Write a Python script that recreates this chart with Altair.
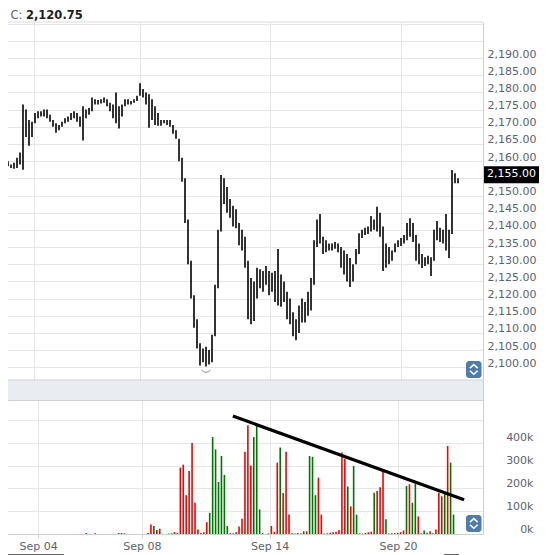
import altair as alt
import pandas as pd

# ---------------- data ----------------
bar_index = list(range(1, 153))

high = [
    2159.5, 2160, 2159, 2159.5, 2161, 2162.5, 2176.5, 2175, 2172, 2171.5,
    2174, 2174.5, 2174.5, 2175, 2175, 2173.5, 2172, 2171, 2170.5, 2171.5,
    2172.5, 2173, 2174, 2174.5, 2174, 2173, 2176, 2175, 2175.5, 2178.5,
    2178, 2177.8, 2178, 2178.5, 2178, 2177, 2176.5, 2180, 2176, 2176.5,
    2178, 2178, 2177.5, 2178, 2179, 2182.7, 2181, 2180, 2179.5, 2178,
    2176, 2174, 2172, 2172, 2172, 2172, 2170.5, 2169, 2166.5, 2161,
    2155, 2143, 2131, 2121, 2114, 2107, 2105.5, 2106, 2105, 2109.5,
    2124, 2140, 2156, 2155, 2152.5, 2149, 2147, 2146, 2142, 2140,
    2138, 2131, 2126, 2125, 2129, 2128.5, 2128, 2129.5, 2128, 2127.5,
    2128, 2134.4, 2127, 2125, 2122, 2120, 2116, 2114, 2118, 2120,
    2119, 2122, 2126, 2137, 2143, 2144.6, 2138, 2137, 2136, 2136,
    2136.5, 2136, 2135, 2134, 2133, 2131.8, 2130, 2134.4, 2139, 2140,
    2140.6, 2141, 2144, 2143, 2146.7, 2145, 2141, 2136, 2135, 2134,
    2136, 2137, 2137.6, 2138.5, 2142, 2143.4, 2142, 2138.5, 2136, 2133,
    2132, 2132.5, 2132, 2140, 2142.6, 2140.6, 2140, 2144.6, 2140, 2157.4,
    2156.5, 2155,
]

low = [
    2158, 2158.5, 2158, 2157.8, 2158, 2159, 2157.5, 2167, 2164.5, 2167,
    2171, 2172.5, 2173, 2173, 2172.5, 2171.5, 2170, 2168.3, 2169, 2170,
    2171, 2171.5, 2172, 2172.5, 2171.5, 2170, 2166, 2172.5, 2173.5, 2174.5,
    2176.5, 2176.5, 2176.8, 2177, 2176, 2174.5, 2172.5, 2171, 2169.5, 2173,
    2176, 2176.5, 2176.5, 2177, 2177.5, 2179, 2178.5, 2176.5, 2169.7, 2172,
    2170.5, 2170.3, 2170.3, 2171, 2170.5, 2170, 2168, 2166.5, 2160, 2154,
    2142, 2130, 2120, 2111.5, 2105.5, 2100.5, 2101.5, 2100.2, 2100.8, 2101.5,
    2109, 2123, 2139.5, 2147.5, 2145, 2143.5, 2141, 2140.5, 2135.5, 2134,
    2129, 2114, 2112.5, 2113.5, 2120, 2123, 2122, 2124, 2121, 2122,
    2119, 2118, 2117.6, 2119, 2114, 2112.5, 2109, 2107.9, 2110, 2113,
    2113, 2115, 2116.5, 2124, 2135, 2136, 2133, 2133.5, 2134, 2134,
    2134.5, 2133.5, 2129, 2127, 2125, 2123.4, 2125, 2130, 2133, 2137.6,
    2138.5, 2138.8, 2139.5, 2140, 2139.5, 2138, 2128, 2129, 2130, 2131,
    2133.5, 2135, 2135.3, 2136, 2137, 2138, 2136.5, 2131, 2130, 2128.9,
    2129.5, 2130, 2126.6, 2131, 2137, 2136.5, 2136, 2134, 2131.8, 2138.8,
    2153.6, 2153.6,
]

# volume in thousands of contracts
volume_k = [
    0, 0, 0, 0, 0, 0, 0, 0, 0, 0,
    0, 0, 0, 0, 0, 0, 0, 0, 0, 0,
    0, 0, 0, 0, 0, 0, 4, 0, 0, 3,
    0, 0, 0, 0, 0, 0, 0, 4, 4, 3,
    0, 0, 0, 0, 0, 0, 0, 4, 42, 35,
    18, 23, 0, 0, 2, 3, 8, 5, 291, 304,
    170, 276, 399, 137, 20, 4, 8, 52, 93, 425,
    371, 228, 342, 259, 35, 4, 3, 8, 33, 67,
    360, 477, 300, 425, 481, 108, 4, 0, 3, 35,
    10, 313, 379, 180, 360, 85, 3, 2, 4, 3,
    12, 12, 342, 338, 170, 247, 85, 2, 3, 5,
    8, 10, 17, 357, 330, 208, 121, 298, 85, 3,
    2, 5, 8, 10, 181, 188, 205, 276, 65, 2,
    3, 4, 5, 8, 15, 210, 218, 137, 220, 77,
    3, 15, 5, 12, 3, 20, 181, 165, 180, 386,
    313, 85,
]

# u = up bar (green), d = down bar (red), ten bars per string
direction = list(
    "uuuuuuuuuu" "uuuuuuuuuu" "uuuuuuduuu" "uuuuuuuddu" "uuuuuuuddu"
    "dduudddddd" "dddddudduu" "uuuuududdd" "ddduuuuuud" "ddudddduud"
    "uduuudduud" "ddddduduuu" "ddddudddud" "ududduduud" "duudddddu" "duu"
)

tick_pos = [10.57, 45.9, 89.43, 133.1]
tick_labels = ["Sep 04", "Sep 08", "Sep 14", "Sep 20"]

trend_index = [76.9, 155.6]
trend_volume_k = [517, 150]

header_label = "C:"
header_close = "2,120.75"
last_price = 2155.00

price_ticks = [2100 + 5 * k for k in range(21)]
vol_ticks = [0, 100000, 200000, 300000, 400000, 500000]

# ---------------- styling ----------------
FONT = "DejaVu Sans"
GRID = "#e6e6e6"
AXIS_LINE = "#cbd0d6"
LABEL = "#5b6470"
RED = "#f50000"
GREEN = "#007400"
BTN = "#4f7cab"
PLOT_W = 481
PRICE_H = 358
VOL_H = 154

price_df = pd.DataFrame({"i": bar_index, "high": high, "low": low})
vol_df = pd.DataFrame({"i": bar_index, "volume": [v * 1000 for v in volume_k],
                       "dir": direction[:len(bar_index)]})
trend_df = pd.DataFrame({"i": trend_index, "volume": [v * 1000 for v in trend_volume_k]})
one = pd.DataFrame({"k": [0]})
hdr = pd.DataFrame({"label": [header_label], "value": [header_close]})

x_scale = alt.Scale(domain=[0, 160.33], nice=False, zero=False)
price_scale = alt.Scale(domain=[2096.3, 2200.5], nice=False, zero=False)
vol_scale = alt.Scale(domain=[0, 675000], nice=False, zero=False)

x_label_expr = " : ".join(
    f"abs(datum.value - {p}) < 0.01 ? '{l}'" for p, l in zip(tick_pos, tick_labels)
) + " : ''"

price_x_axis = alt.Axis(values=tick_pos, grid=True, gridColor=GRID, labels=False,
                        ticks=False, domain=False, title=None)
price_y_axis = alt.Axis(
    orient="right", values=price_ticks, title=None, ticks=False,
    domain=True, domainColor=AXIS_LINE, grid=True, gridColor=GRID,
    labelExpr="datum.value > 2190 || datum.value == 2155 ? '' : format(datum.value, ',.2f')",
    labelAlign="left", labelBaseline="alphabetic", labelPadding=4,
    labelOffset=-1, labelFlush=False, labelOverlap=False)
vol_x_axis = alt.Axis(values=tick_pos, labelExpr=x_label_expr, title=None, grid=True,
                      gridColor=GRID, domainColor=AXIS_LINE, tickColor=AXIS_LINE,
                      tickSize=4, labelPadding=2, labelFlush=False, labelOverlap=False)
vol_y_axis = alt.Axis(
    orient="right", values=vol_ticks, title=None, ticks=False,
    domain=True, domainColor=AXIS_LINE, grid=True, gridColor=GRID,
    labelExpr="datum.value >= 500000 ? '' : format(datum.value / 1000, 'd') + 'k'",
    labelAlign="right", labelBaseline="alphabetic", labelPadding=50,
    labelOffset=-2, labelFlush=False, labelOverlap=False)


def button(top):
    rect = alt.Chart(one).mark_rect(color=BTN, cornerRadius=3).encode(
        x=alt.value(464), x2=alt.value(479.5), y=alt.value(top), y2=alt.value(top + 17))
    up = alt.Chart(one).mark_point(
        shape="M-1,0.45L0,-0.45L1,0.45", filled=False, color="white",
        size=60, strokeWidth=1.6, opacity=1).encode(
        x=alt.value(471.8), y=alt.value(top + 5.3))
    down = alt.Chart(one).mark_point(
        shape="M-1,-0.45L0,0.45L1,-0.45", filled=False, color="white",
        size=60, strokeWidth=1.6, opacity=1).encode(
        x=alt.value(471.8), y=alt.value(top + 11.5))
    return [rect, up, down]


# ---------------- price panel ----------------
price_bars = alt.Chart(price_df).mark_rule(color="#000000", strokeWidth=1.6).encode(
    x=alt.X("i:Q", scale=x_scale, axis=price_x_axis),
    y=alt.Y("low:Q", scale=price_scale, axis=price_y_axis),
    y2="high:Q",
)

top_line = alt.Chart(one).mark_rule(color="#dadada").encode(
    x=alt.value(0), x2=alt.value(PLOT_W), y=alt.value(0))
top_bound = alt.Chart(one).mark_rule(opacity=0).encode(
    x=alt.value(0), x2=alt.value(5), y=alt.value(-21))
hdr_label = alt.Chart(hdr).mark_text(align="left", baseline="middle", font=FONT,
                                     fontSize=11.5, color=LABEL).encode(
    x=alt.value(8.5), y=alt.value(-6.5), text="label:N")
hdr_value = alt.Chart(hdr).mark_text(align="left", baseline="middle", font=FONT,
                                     fontSize=11.5, fontWeight="bold", color="#1e1e1e").encode(
    x=alt.value(24), y=alt.value(-6.5), text="value:N")

last_box = alt.Chart(one).mark_rect(color="#000000", yOffset=-12, y2Offset=5).encode(
    x=alt.value(482), x2=alt.value(537),
    y=alt.datum(last_price, scale=price_scale, axis=price_y_axis),
    y2=alt.datum(last_price))
last_text = alt.Chart(one).mark_text(align="left", baseline="alphabetic", dy=-1,
                                     font=FONT, fontSize=11, color="white").encode(
    x=alt.value(485), y=alt.datum(last_price, scale=price_scale, axis=price_y_axis),
    text=alt.value(f"{last_price:,.2f}"))

low_marker = alt.Chart(price_df).transform_joinaggregate(
    mn="min(low)").transform_filter("datum.low == datum.mn").mark_point(
    shape="M-1,-0.35Q0,0.7 1,-0.35", filled=False, color="#666666", size=80,
    strokeWidth=1, yOffset=5).encode(
    x=alt.X("i:Q", scale=x_scale, axis=price_x_axis),
    y=alt.Y("low:Q", scale=price_scale, axis=price_y_axis))

price_chart = alt.layer(
    price_bars, top_line, top_bound, hdr_label, hdr_value, low_marker,
    last_box, last_text, *button(339)
).properties(width=PLOT_W, height=PRICE_H)

# ---------------- volume panel ----------------
vol_bars = alt.Chart(vol_df).mark_bar(width=1.6).encode(
    x=alt.X("i:Q", scale=x_scale, axis=vol_x_axis),
    y=alt.Y("volume:Q", scale=vol_scale, axis=vol_y_axis),
    color=alt.Color("dir:N", scale=alt.Scale(domain=["d", "u"], range=[RED, GREEN]),
                    legend=None),
)

band = alt.Chart(one).mark_rect(color="#e9ecf1").encode(
    x=alt.value(0), x2=alt.value(PLOT_W), y=alt.value(0), y2=alt.value(20))
band_top = alt.Chart(one).mark_rule(color="#cfd3d9").encode(
    x=alt.value(0), x2=alt.value(PLOT_W), y=alt.value(0))
band_bottom = alt.Chart(one).mark_rule(color="#cfd3d9").encode(
    x=alt.value(0), x2=alt.value(PLOT_W), y=alt.value(20.5))

trend = alt.Chart(trend_df).mark_line(color="#000000", strokeWidth=3.2).encode(
    x=alt.X("i:Q", scale=x_scale, axis=vol_x_axis),
    y=alt.Y("volume:Q", scale=vol_scale, axis=vol_y_axis))

nav1 = alt.Chart(one).mark_rule(color="#333333", strokeWidth=1.5).encode(
    x=alt.value(0), x2=alt.value(62), y=alt.value(175))
nav2 = alt.Chart(one).mark_rule(color="#333333", strokeWidth=1.5).encode(
    x=alt.value(442), x2=alt.value(457), y=alt.value(175))

vol_chart = alt.layer(
    vol_bars, band, band_top, band_bottom, trend, nav1, nav2, *button(135)
).properties(width=PLOT_W, height=VOL_H)

chart = alt.vconcat(price_chart, vol_chart, spacing=0, bounds="flush").properties(
    padding={"left": -8, "top": -8, "right": 0, "bottom": 0}
).configure_view(stroke="transparent").configure_axis(
    labelFont=FONT, labelColor=LABEL, labelFontSize=11
)

chart.save("out.html", embed_options={"renderer": "svg", "actions": False})
